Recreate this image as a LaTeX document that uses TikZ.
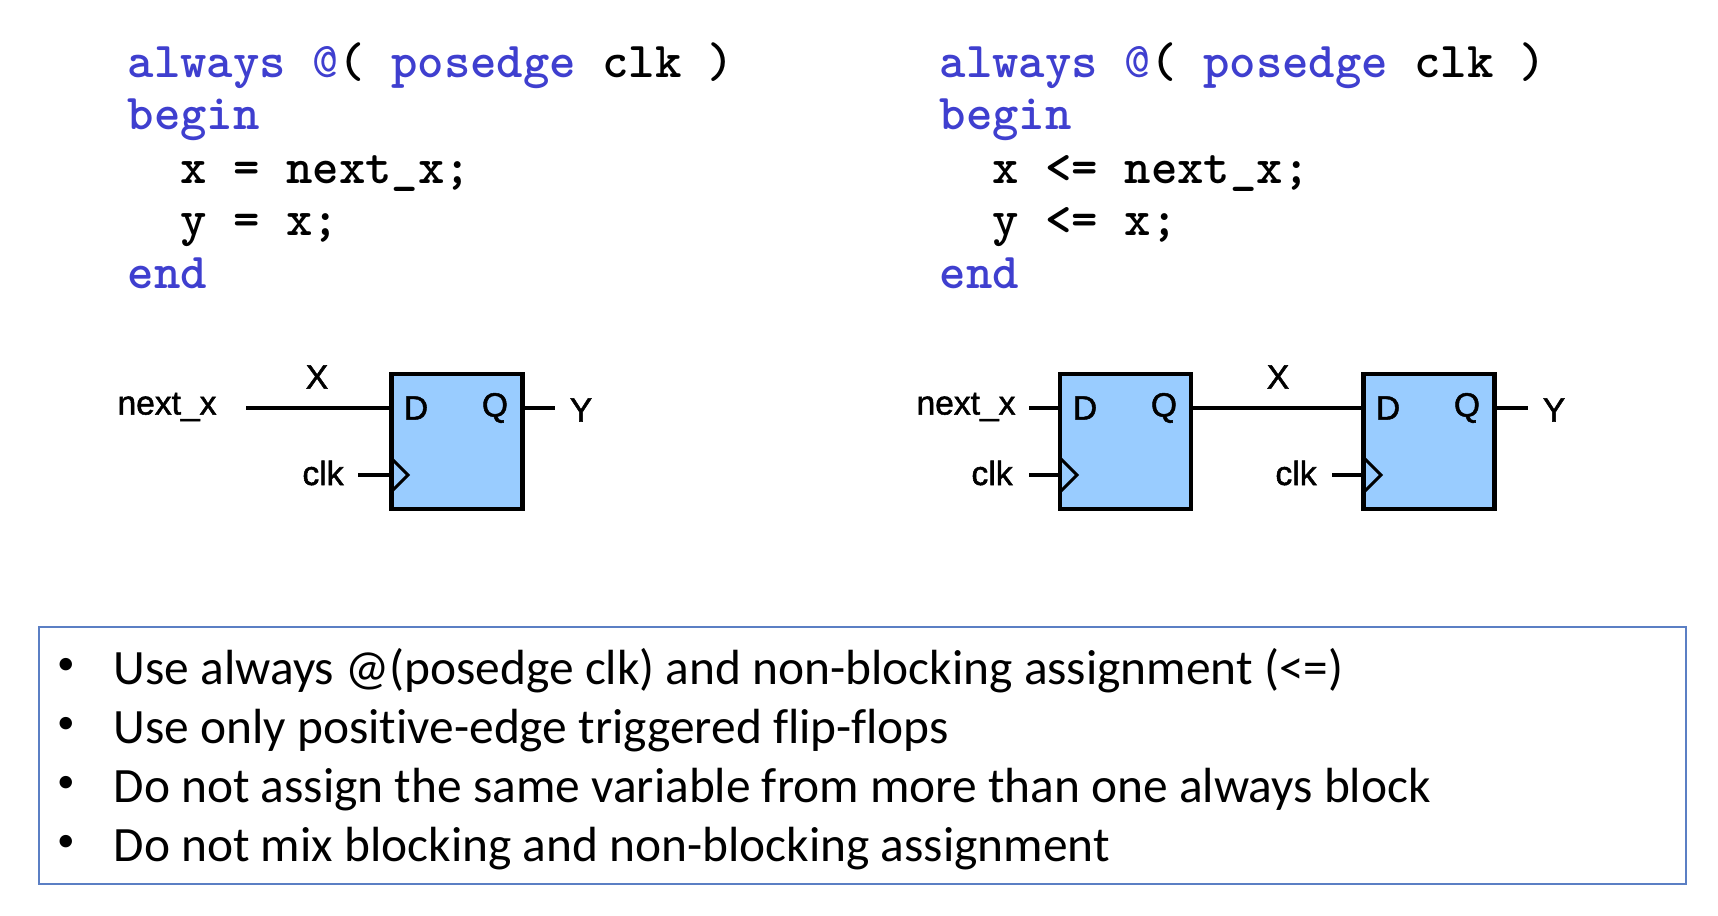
\documentclass[tikz,border=0pt]{standalone}
\usepackage{fontspec}
\setmainfont{Liberation Sans}
\newfontfamily\bulletfont[Ligatures=NoCommon]{Carlito}
\newfontfamily\sigfont[FakeBold=1.5]{Liberation Sans}
\definecolor{kwblue}{HTML}{3F3FCF}
\definecolor{ffblue}{HTML}{99CCFF}
\definecolor{noteblue}{HTML}{5B7FC4}
\tikzset{
	code/.style={anchor=base west,inner sep=0,font=\fontsize{14.3}{14.3}\selectfont\ttfamily\bfseries},
	flop/.style={draw,line width=1.3pt,fill=ffblue,minimum width=37.3pt,minimum height=38.4pt,inner sep=0},
	pin/.style={line width=1.15pt},
	sig/.style={inner sep=0,font=\fontsize{9.55}{9.55}\selectfont\sigfont},
	tick/.style={line width=.85pt},
	note/.style={anchor=base west,inner sep=0,font=\fontsize{14.05}{14.05}\selectfont\bulletfont},
	dot/.style={inner sep=0,font=\fontsize{10}{10}\selectfont\bulletfont},
}
\newcommand{\kw}[1]{\textcolor{kwblue}{#1}}
\begin{document}
\begin{tikzpicture}[x=0.01cm,y=-0.01cm]
	\useasboundingbox (0,0) rectangle (1718,916);
	
	%LEFT CODE
	\node[code] (la) at (127,78) {\kw{always {\mdseries @}}( \kw{posedge} clk )};
	\node[code] (lb) at (127,130) {\kw{begin}};
	\node[code] (lc) at (180,184) {x = next\_x;};
	\node[code] (ld) at (180,236) {y = x;};
	\node[code] (le) at (127,289) {\kw{end}};
	
	%RIGHT CODE
	\node[code] (ra) at (939,78) {\kw{always {\mdseries @}}( \kw{posedge} clk )};
	\node[code] (rb) at (939,130) {\kw{begin}};
	\node[code] (rc) at (992,184) {x <= next\_x;};
	\node[code] (rd) at (992,236) {y <= x;};
	\node[code] (re) at (939,289) {\kw{end}};
	
	%LEFT FLIP-FLOP
	\node[flop] (ffa) at (457,441.5) {};
	\node[sig] (da) at (416,408) {D};
	\node[sig] (qa) at (495,408) {Q};
	\node[sig] (nxa) at (167,407) {next\_x};
	\node[sig] (xa) at (317,377) {X};
	\node[sig] (ya) at (581,410) {Y};
	\node[sig] (clka) at (323,473) {clk};
	\coordinate (nxae) at (246,408);
	\coordinate (yae) at (555,408);
	\coordinate (clkae) at (358,475);
	\draw[pin] (nxae)--(nxae-|ffa.west);
	\draw[pin] (yae-|ffa.east)--(yae);
	\draw[pin] (clkae)--(clkae-|ffa.west);
	\draw[tick] (392,459)--(408,475)--(392,491);
	
	%RIGHT FLIP-FLOPS
	\node[flop] (ffb) at (1125.5,441.5) {};
	\node[flop] (ffc) at (1429,441.5) {};
	\node[sig] (db) at (1085,408) {D};
	\node[sig] (qb) at (1164,408) {Q};
	\node[sig] (dc) at (1388,408) {D};
	\node[sig] (qc) at (1467,408) {Q};
	\node[sig] (nxb) at (966,407) {next\_x};
	\node[sig] (xb) at (1278,377) {X};
	\node[sig] (yc) at (1554,410) {Y};
	\node[sig] (clkb) at (992,473) {clk};
	\node[sig] (clkc) at (1296,473) {clk};
	\coordinate (nxbe) at (1029,408);
	\coordinate (yce) at (1528,408);
	\coordinate (clkbe) at (1029,475);
	\coordinate (clkce) at (1332,475);
	\draw[pin] (nxbe)--(nxbe-|ffb.west);
	\draw[pin] (ffb.east|-nxbe)--(ffc.west|-nxbe);
	\draw[pin] (yce-|ffc.east)--(yce);
	\draw[pin] (clkbe)--(clkbe-|ffb.west);
	\draw[pin] (clkce)--(clkce-|ffc.west);
	\draw[tick] (1061,459)--(1077,475)--(1061,491);
	\draw[tick] (1365,459)--(1381,475)--(1365,491);
	
	%NOTE BOX
	\draw[noteblue,line width=.6pt] (39,627) rectangle (1686,884);
	\node[dot] (ba) at (66,666) {•};
	\node[dot] (bb) at (66,725) {•};
	\node[dot] (bc) at (66,784) {•};
	\node[dot] (bd) at (66,843) {•};
	\node[note] (na) at (113,684.5) {Use always @(posedge clk) and non-blocking assignment (<=)};
	\node[note] (nb) at (113,743.5) {Use only positive-edge triggered flip-flops};
	\node[note] (nc) at (113,802.5) {Do not assign the same variable from more than one always block};
	\node[note] (nd) at (113,861) {Do not mix blocking and non-blocking assignment};
\end{tikzpicture}
\end{document}
